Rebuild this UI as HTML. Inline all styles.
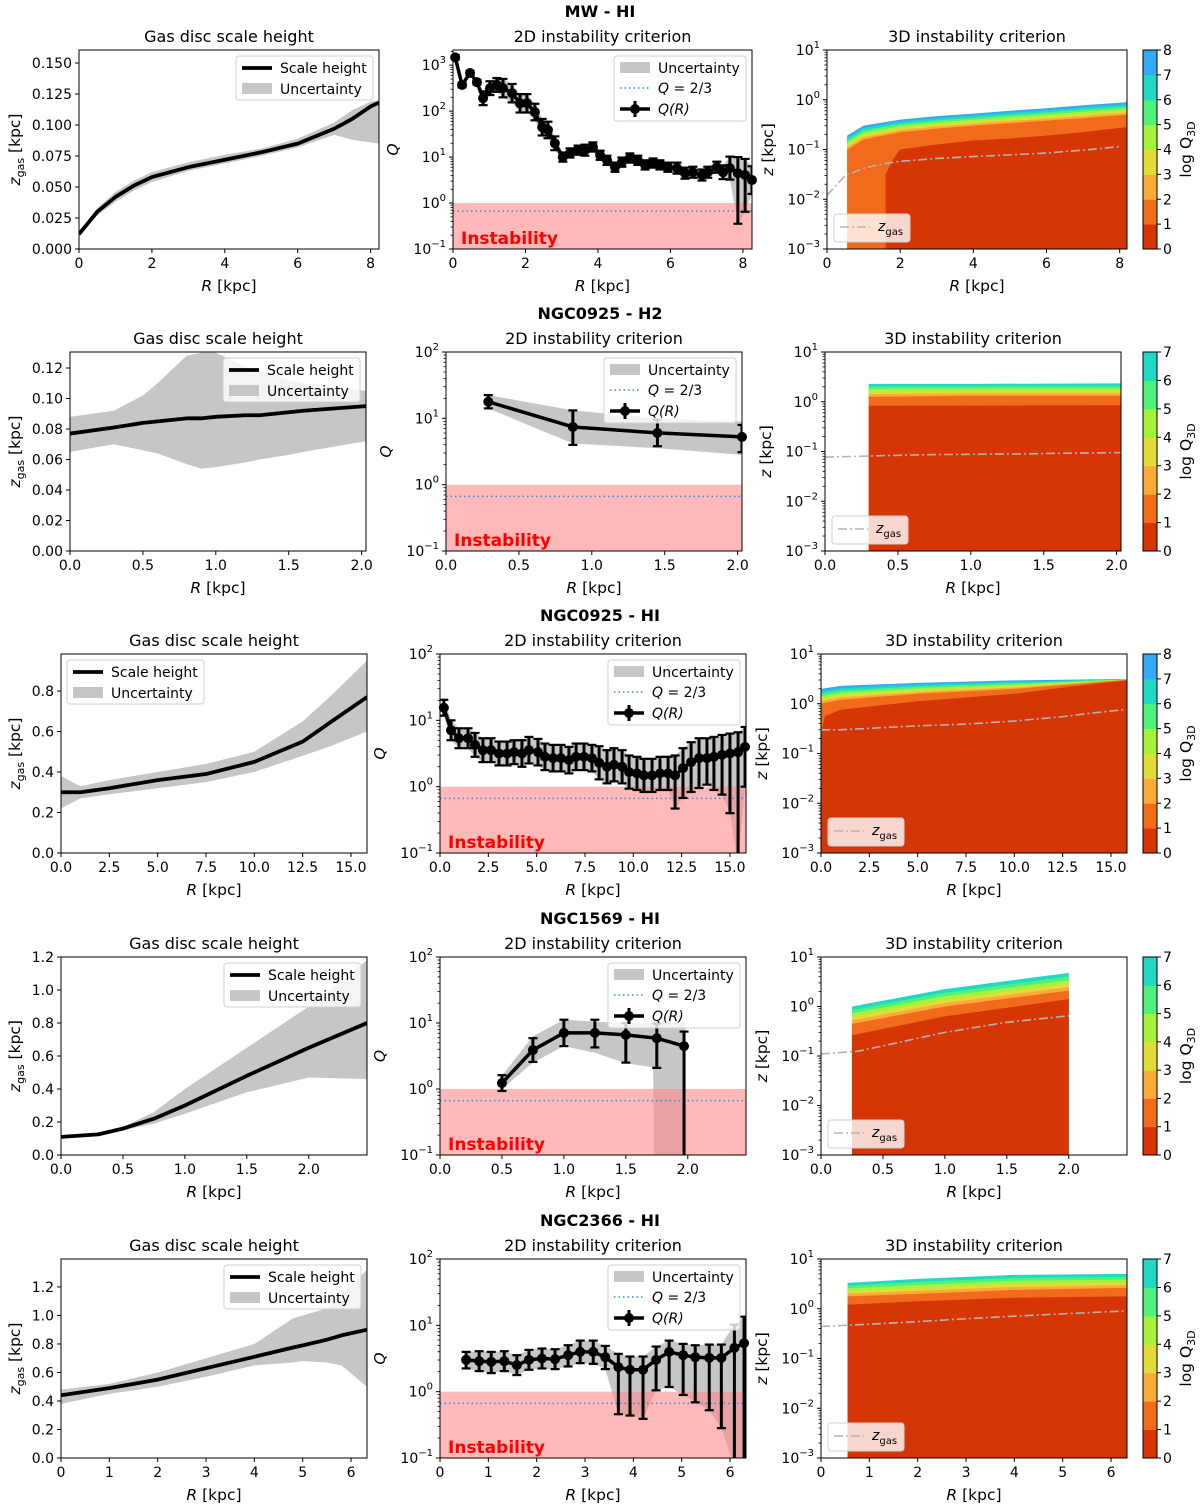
<!DOCTYPE html>
<html><head><meta charset="utf-8"><style>
html,body{margin:0;padding:0;background:#fff}
svg{display:block;font-family:"DejaVu Sans","Liberation Sans",sans-serif}
</style></head><body>
<svg id="fig" width="1200" height="1509" viewBox="0 0 1200 1509"></svg>
<script>
// ---------------- DATA ----------------
const mwR=[0,0.5,1,1.5,2,3,4,5,6,7,7.5,8,8.23];
const mwZ=[0.012,0.03,0.042,0.051,0.058,0.066,0.072,0.078,0.085,0.097,0.105,0.115,0.118];
const mwZlo=[0.010,0.027,0.038,0.047,0.054,0.063,0.069,0.075,0.082,0.092,0.088,0.086,0.085];
const mwZhi=[0.014,0.033,0.046,0.055,0.062,0.070,0.076,0.081,0.089,0.102,0.112,0.119,0.12];
const mwQR=[0.06,0.25,0.47,0.66,0.83,1.02,1.21,1.38,1.63,1.85,2.04,2.26,2.46,2.62,2.81,3.03,3.23,3.45,3.64,3.86,4.06,4.25,4.47,4.66,4.88,5.1,5.3,5.52,5.71,5.93,6.18,6.4,6.62,6.87,7.03,7.28,7.45,7.64,7.86,8.06,8.25];
const mwQ=[3.17,2.57,2.83,2.63,2.28,2.5,2.57,2.5,2.39,2.17,2.17,1.98,1.65,1.59,1.3,1.0,1.09,1.15,1.15,1.22,1.04,0.93,0.78,0.89,0.98,0.93,0.83,0.87,0.83,0.78,0.76,0.65,0.67,0.61,0.67,0.78,0.67,0.76,0.65,0.61,0.5];
const mwQerrLo=[0.05,0.05,0.05,0.05,0.15,0.15,0.15,0.2,0.2,0.2,0.2,0.18,0.18,0.18,0.15,0.1,0.1,0.1,0.12,0.1,0.1,0.1,0.1,0.1,0.1,0.1,0.1,0.1,0.1,0.1,0.12,0.12,0.12,0.12,0.12,0.12,0.15,0.25,1.1,0.8,0.3];
const mwQerrHi=[0.05,0.05,0.05,0.05,0.15,0.15,0.15,0.2,0.2,0.2,0.2,0.18,0.18,0.18,0.15,0.1,0.1,0.1,0.12,0.1,0.1,0.1,0.1,0.1,0.1,0.1,0.1,0.1,0.1,0.1,0.12,0.12,0.12,0.12,0.12,0.12,0.15,0.25,0.35,0.35,0.3];
const mw3dR=[0.55,1,2,3,4,5,6,7,8.2];
const mw3dOuter=[-0.72,-0.52,-0.40,-0.33,-0.28,-0.22,-0.17,-0.11,-0.05];
const mw3dLevel1=[-1.0,-0.8,-0.65,-0.58,-0.52,-0.47,-0.42,-0.37,-0.3];
const mw3dRedR=[1.6,1.8,2,3,4,5,6,7,8.2];
const mw3dRed=[-1.5,-1.2,-1.0,-0.9,-0.82,-0.78,-0.72,-0.65,-0.55];

const h2R=[0,0.3,0.5,0.6,0.8,0.9,1.0,1.2,1.3,1.5,1.6,2.03];
const h2Z=[0.077,0.081,0.084,0.085,0.087,0.087,0.088,0.089,0.089,0.091,0.092,0.095];
const h2Zlo=[0.065,0.07,0.066,0.064,0.057,0.054,0.055,0.058,0.06,0.063,0.065,0.072];
const h2Zhi=[0.088,0.092,0.102,0.11,0.128,0.13,0.13,0.121,0.118,0.112,0.11,0.105];
const h2QR=[0.29,0.87,1.45,2.03];
const h2Q=[1.25,0.87,0.78,0.72];
const h2QerrLo=[0.1,0.27,0.2,0.23];
const h2QerrHi=[0.1,0.25,0.2,0.18];
const h2QbandR=[0.29,0.87,1.45,2.03];
const h2QbandLo=[1.15,0.62,0.55,0.45];
const h2QbandHi=[1.35,1.12,1.0,0.95];
const h23dR=[0.3,1,2.03];
const h23dOuter=[0.36,0.36,0.37];
const h23dLevel1=[0.1,0.12,0.12];
const h23dRedR=[0.3,2.03];
const h23dRed=[-0.08,-0.07];

const n9R=[0,1,2.5,5,7.5,10,12.5,14,15.83];
const n9Z=[0.30,0.30,0.32,0.36,0.39,0.45,0.55,0.65,0.77];
const n9Zlo=[0.22,0.27,0.29,0.32,0.35,0.40,0.48,0.53,0.60];
const n9Zhi=[0.38,0.33,0.36,0.40,0.44,0.50,0.65,0.78,0.95];
const n9QR=[0.2,0.57,0.98,1.45,1.81,2.22,2.64,3.05,3.47,3.83,4.24,4.6,5.07,5.43,5.85,6.26,6.67,7.04,7.45,7.86,8.23,8.64,9.0,9.42,9.78,10.19,10.55,10.97,11.38,11.8,12.16,12.57,12.99,13.4,13.81,14.17,14.59,15.0,15.42,15.78];
const n9Q=[1.19,0.85,0.73,0.73,0.63,0.55,0.55,0.5,0.5,0.52,0.5,0.55,0.52,0.45,0.43,0.43,0.4,0.45,0.45,0.43,0.36,0.3,0.33,0.3,0.22,0.2,0.17,0.17,0.2,0.2,0.17,0.28,0.37,0.43,0.43,0.45,0.48,0.5,0.52,0.6];
const n9QerrLo=[0.12,0.15,0.15,0.15,0.18,0.18,0.18,0.18,0.18,0.18,0.2,0.2,0.2,0.2,0.2,0.2,0.2,0.2,0.2,0.2,0.25,0.25,0.25,0.25,0.25,0.25,0.25,0.25,0.25,0.25,0.5,0.45,0.45,0.45,0.4,0.5,0.6,0.9,1.7,0.6];
const n9QerrHi=[0.12,0.15,0.15,0.15,0.18,0.18,0.18,0.18,0.18,0.18,0.2,0.2,0.2,0.2,0.2,0.2,0.2,0.2,0.2,0.2,0.25,0.25,0.25,0.25,0.25,0.25,0.25,0.25,0.25,0.25,0.3,0.3,0.3,0.3,0.3,0.3,0.3,0.3,0.3,0.3];
const n93dR=[0,1,5,10,15.83];
const n93dOuter=[0.3,0.36,0.42,0.47,0.5];
const n93dLevel1=[0.0,0.08,0.2,0.3,0.48];
const n93dRedR=[0,0.2,1,5,10,13,15.83];
const n93dRed=[-0.6,-0.25,-0.12,0.05,0.2,0.35,0.47];

const n69R=[0,0.3,0.5,0.75,1.0,1.5,2.0,2.47];
const n69Z=[0.11,0.125,0.16,0.22,0.30,0.48,0.65,0.80];
const n69Zlo=[0.10,0.115,0.15,0.19,0.25,0.38,0.47,0.46];
const n69Zhi=[0.12,0.135,0.17,0.26,0.40,0.65,0.90,1.18];
const n69QR=[0.5,0.75,1.0,1.25,1.5,1.75,1.97];
const n69Q=[0.09,0.59,0.85,0.85,0.82,0.77,0.65];
const n69QerrLo=[0.12,0.18,0.2,0.22,0.42,0.45,2.0];
const n69QerrHi=[0.12,0.18,0.2,0.2,0.18,0.22,0.22];
const n69QbandR=[0.5,0.75,1.0,1.25,1.5,1.72,1.73,1.98];
const n69QbandLo=[0.0,0.4,0.65,0.55,0.39,0.33,-1.0,-1.0];
const n69QbandHi=[0.2,0.8,1.05,1.02,1.0,1.0,1.0,1.0];
const n693dR=[0.25,1,2.0];
const n693dOuter=[0.0,0.35,0.68];
const n693dLevel1=[-0.35,0.0,0.32];
const n693dRedR=[0.25,1,2.0];
const n693dRed=[-0.58,-0.2,0.15];

const n66R=[0,1,2,3,4,4.8,5,5.5,5.8,6.33];
const n66Z=[0.44,0.49,0.55,0.63,0.71,0.775,0.79,0.83,0.86,0.9];
const n66Zlo=[0.38,0.45,0.50,0.57,0.65,0.67,0.68,0.67,0.65,0.5];
const n66Zhi=[0.48,0.52,0.60,0.70,0.80,0.98,1.0,1.05,1.15,1.32];
const n66QR=[0.54,0.81,1.06,1.33,1.59,1.84,2.11,2.38,2.65,2.9,3.17,3.42,3.69,3.93,4.2,4.47,4.74,5.03,5.28,5.57,5.82,6.09,6.29];
const n66Q=[0.48,0.46,0.45,0.46,0.40,0.48,0.50,0.49,0.55,0.60,0.60,0.52,0.37,0.33,0.33,0.48,0.60,0.55,0.52,0.51,0.51,0.66,0.73];
const n66QerrLo=[0.13,0.15,0.17,0.15,0.15,0.15,0.15,0.15,0.17,0.17,0.18,0.18,0.71,0.69,0.74,0.46,0.53,0.6,0.68,0.79,1.06,1.8,1.8];
const n66QerrHi=[0.12,0.15,0.15,0.15,0.15,0.15,0.15,0.15,0.15,0.17,0.17,0.17,0.2,0.2,0.2,0.2,0.17,0.17,0.18,0.2,0.2,0.35,0.4];
const n663dR=[0.55,2,4,6.33];
const n663dOuter=[0.52,0.6,0.68,0.7];
const n663dLevel1=[0.25,0.3,0.38,0.42];
const n663dRedR=[0.55,2,4,6.33];
const n663dRed=[0.08,0.15,0.22,0.25];

const levelColors=['#d63506','#f26b1d','#fdaa3a','#e2dc38','#a5f23c','#4ef17a','#1fd9c4','#35a8f7'];

// ---------------- LAYOUT ----------------
const ROWS=[
 {id:'mw',title:'MW - HI',top:50,bot:249,
  L:{x0:79,x1:379,xmax:8.23,ymax:0.1605,xt:[0,2,4,6,8],xd:0,yt:[0,.025,.05,.075,.1,.125,.15],yd:3,leg:[236,56]},
  M:{x0:453,x1:752,xmax:8.25,yhi:3.33,leg:[614,56]},
  T:{x0:827,x1:1127,xmax:8.2,nl:8,zmax:8.2},
  z:[mwR,mwZ,mwZlo,mwZhi],q:[mwQR,mwQ,mwQerrLo,mwQerrHi,null,null,null],d3:[mw3dR,mw3dOuter,mw3dLevel1,mw3dRedR,mw3dRed]},
 {id:'ngc0925-h2',title:'NGC0925 - H2',top:352,bot:551,
  L:{x0:70,x1:366,xmax:2.03,ymax:0.1305,xt:[0,0.5,1,1.5,2],xd:1,yt:[0,.02,.04,.06,.08,.1,.12],yd:2,leg:[223,358]},
  M:{x0:446,x1:742,xmax:2.03,yhi:2,leg:[604,358]},
  T:{x0:825,x1:1121,xmax:2.03,nl:7,zmax:2.03},
  z:[h2R,h2Z,h2Zlo,h2Zhi],q:[h2QR,h2Q,h2QerrLo,h2QerrHi,h2QbandR,h2QbandLo,h2QbandHi],d3:[h23dR,h23dOuter,h23dLevel1,h23dRedR,h23dRed]},
 {id:'ngc0925-hi',title:'NGC0925 - HI',top:654,bot:853,
  L:{x0:61,x1:367,xmax:15.83,ymax:0.983,xt:[0,2.5,5,7.5,10,12.5,15],xd:1,yt:[0,.2,.4,.6,.8],yd:1,leg:[67,660]},
  M:{x0:440,x1:746,xmax:15.83,yhi:2,leg:[608,660]},
  T:{x0:821,x1:1127,xmax:15.83,nl:8,zmax:15.83},
  z:[n9R,n9Z,n9Zlo,n9Zhi],q:[n9QR,n9Q,n9QerrLo,n9QerrHi,null,null,null],d3:[n93dR,n93dOuter,n93dLevel1,n93dRedR,n93dRed]},
 {id:'ngc1569-hi',title:'NGC1569 - HI',top:957,bot:1155,
  L:{x0:61,x1:367,xmax:2.47,ymax:1.2,xt:[0,0.5,1,1.5,2],xd:1,yt:[0,.2,.4,.6,.8,1,1.2],yd:1,leg:[224,963]},
  M:{x0:440,x1:746,xmax:2.47,yhi:2,leg:[608,963]},
  T:{x0:821,x1:1127,xmax:2.47,nl:7,zmax:2.0},
  z:[n69R,n69Z,n69Zlo,n69Zhi],q:[n69QR,n69Q,n69QerrLo,n69QerrHi,n69QbandR,n69QbandLo,n69QbandHi],d3:[n693dR,n693dOuter,n693dLevel1,n693dRedR,n693dRed]},
 {id:'ngc2366-hi',title:'NGC2366 - HI',top:1259,bot:1458,
  L:{x0:61,x1:367,xmax:6.33,ymax:1.396,xt:[0,1,2,3,4,5,6],xd:0,yt:[0,.2,.4,.6,.8,1,1.2],yd:1,leg:[224,1265]},
  M:{x0:440,x1:746,xmax:6.33,yhi:2,leg:[608,1265]},
  T:{x0:821,x1:1127,xmax:6.33,nl:7,zmax:6.33},
  z:[n66R,n66Z,n66Zlo,n66Zhi],q:[n66QR,n66Q,n66QerrLo,n66QerrHi,null,null,null],d3:[n663dR,n663dOuter,n663dLevel1,n663dRedR,n663dRed]}
];

// ---------------- HELPERS ----------------
const NS='http://www.w3.org/2000/svg';
const svg=document.getElementById('fig');
function mk(tag,attrs,parent){const e=document.createElementNS(NS,tag);for(const k in attrs)e.setAttribute(k,attrs[k]);(parent||svg).appendChild(e);return e;}
function txt(s,attrs,parent){const e=mk('text',attrs,parent);e.textContent=s;return e;}
let clipId=0;
function clip(x0,y0,x1,y1){const id='c'+(clipId++);const cp=mk('clipPath',{id:id});mk('rect',{x:x0,y:y0,width:x1-x0,height:y1-y0},cp);return 'url(#'+id+')';}
function frame(g,x0,y0,x1,y1){const r=mk('rect',{x:x0,y:y0,width:x1-x0,height:y1-y0,fill:'none',stroke:'#000','stroke-width':1},g);

}
function xTicks(g,vals,dec,sx,bot){vals.forEach(v=>{const x=sx(v);mk('line',{x1:x,x2:x,y1:bot,y2:bot+4,stroke:'#000'},g);
const t=txt(v.toFixed(dec),{x:x,y:bot+19,'font-size':14,'text-anchor':'middle'},g);

});}
function xLabel(g,cx,bot){const t=mk('text',{x:cx,y:bot+42,'font-size':15.5,'text-anchor':'middle'},g);


const a=mk('tspan',{'font-style':'italic'},t);a.textContent='R';const b=mk('tspan',{},t);b.textContent=' [kpc]';}
function logTicks(g,lo,hi,sy,x0){for(let d=Math.ceil(lo);d<=Math.floor(hi);d++){const y=sy(d);mk('line',{x1:x0-4,x2:x0,y1:y,y2:y,stroke:'#000'},g);
const t=mk('text',{x:x0-7,y:y+5,'font-size':14,'text-anchor':'end'},g);


const a=mk('tspan',{},t);a.textContent='10';const b=mk('tspan',{dy:-7,'font-size':10},t);b.textContent=String(d).replace('-','\u2212');}
for(let d=Math.floor(lo);d<=hi;d++){for(let m=2;m<10;m++){const v=d+Math.log10(m);if(v>lo&&v<hi){const y=sy(v);mk('line',{x1:x0-2.5,x2:x0,y1:y,y2:y,stroke:'#000','stroke-width':0.8},g);}}}}
function panelTitle(g,s,cx,top){const t=txt(s,{x:cx,y:top-8,'font-size':16,'text-anchor':'middle'},g);

}

// ---------------- DRAW ----------------
ROWS.forEach(row=>{
 const top=row.top,bot=row.bot;
 const rt=txt(row.title,{x:600,y:top-33,'font-size':16,'font-weight':'bold','text-anchor':'middle'});
 
 

 // ---- left: scale height ----
 {const c=row.L;const g=mk('g',{});
 
 
 const sx=v=>c.x0+v/c.xmax*(c.x1-c.x0), sy=v=>bot-v/c.ymax*(bot-top);
 const [R,Z,lo,hi]=row.z;const cl=clip(c.x0,top,c.x1,bot);
 let pts=R.map((r,i)=>sx(r)+','+sy(hi[i]));for(let i=R.length-1;i>=0;i--)pts.push(sx(R[i])+','+sy(lo[i]));
 const band=mk('polygon',{points:pts.join(' '),fill:'#c6c6c6','clip-path':cl},g);
 
 
 const ln=mk('path',{d:'M'+R.map((r,i)=>sx(r)+','+sy(Z[i])).join('L'),fill:'none',stroke:'#000','stroke-width':3.8,'stroke-linejoin':'round','clip-path':cl},g);
 
 
 frame(g,c.x0,top,c.x1,bot);
 xTicks(g,c.xt,c.xd,sx,bot);
 c.yt.forEach(v=>{const y=sy(v);mk('line',{x1:c.x0-4,x2:c.x0,y1:y,y2:y,stroke:'#000'},g);
  const t=txt(v.toFixed(c.yd),{x:c.x0-7,y:y+5,'font-size':14,'text-anchor':'end'},g);
  
  });
 xLabel(g,(c.x0+c.x1)/2,bot);
 const yl=mk('text',{x:0,y:0,'font-size':15.5,'text-anchor':'middle',transform:'translate(20,'+((top+bot)/2)+') rotate(-90)'},g);
 
 
 const a=mk('tspan',{'font-style':'italic'},yl);a.textContent='z';const b=mk('tspan',{dy:4,'font-size':11},yl);b.textContent='gas';const cc=mk('tspan',{dy:-4},yl);cc.textContent=' [kpc]';
 panelTitle(g,'Gas disc scale height',(c.x0+c.x1)/2,top);
 const [lx,ly]=c.leg;const lg=mk('g',{},g);
 
 
 mk('rect',{x:lx,y:ly,width:137,height:44,rx:3,fill:'#fff','fill-opacity':0.8,stroke:'#d0d0d0'},lg);
 mk('line',{x1:lx+6,x2:lx+36,y1:ly+12,y2:ly+12,stroke:'#000','stroke-width':3.8},lg);
 txt('Scale height',{x:lx+44,y:ly+17,'font-size':14},lg);
 mk('rect',{x:lx+6,y:ly+27,width:30,height:11,fill:'#c6c6c6'},lg);
 txt('Uncertainty',{x:lx+44,y:ly+38,'font-size':14},lg);}

 // ---- middle: 2D Q ----
 {const c=row.M;const g=mk('g',{});
 
 
 const ylo=-1,yhi=c.yhi;
 const sx=v=>c.x0+v/c.xmax*(c.x1-c.x0), sy=v=>bot-(v-ylo)/(yhi-ylo)*(bot-top);
 const [R,Q,eL,eH,bR,bL,bH]=row.q;const cl=clip(c.x0,top,c.x1,bot);
 const BR=bR||R;
 const lo=bL||Q.map((q,i)=>q-eL[i]), hi=bH||Q.map((q,i)=>q+eH[i]);
 let pts=BR.map((r,i)=>sx(r)+','+sy(Math.max(hi[i],-1.2)));for(let i=BR.length-1;i>=0;i--)pts.push(sx(BR[i])+','+sy(Math.max(lo[i],-1.2)));
 const band=mk('polygon',{points:pts.join(' '),fill:'#c6c6c6','clip-path':cl},g);
 
 
 const pk=mk('rect',{x:c.x0,y:sy(0),width:c.x1-c.x0,height:bot-sy(0),fill:'#ff8a8a','fill-opacity':0.6},g);
 
 
 const dl=mk('line',{x1:c.x0,x2:c.x1,y1:sy(Math.log10(2/3)),y2:sy(Math.log10(2/3)),stroke:'#2b8cf0','stroke-width':1.5,'stroke-dasharray':'1.5,3'},g);
 
 
 const eg=mk('g',{'clip-path':cl},g);
 R.forEach((r,i)=>{const x=sx(r);mk('line',{x1:x,x2:x,y1:sy(Q[i]-eL[i]),y2:sy(Q[i]+eH[i]),stroke:'#000','stroke-width':3},eg);
  mk('line',{x1:x-4.5,x2:x+4.5,y1:sy(Q[i]-eL[i]),y2:sy(Q[i]-eL[i]),stroke:'#000','stroke-width':2.2},eg);
  mk('line',{x1:x-4.5,x2:x+4.5,y1:sy(Q[i]+eH[i]),y2:sy(Q[i]+eH[i]),stroke:'#000','stroke-width':2.2},eg);});
 const ql=mk('path',{d:'M'+R.map((r,i)=>sx(r)+','+sy(Q[i])).join('L'),fill:'none',stroke:'#000','stroke-width':3.5,'stroke-linejoin':'round','clip-path':cl},g);
 
 
 R.forEach((r,i)=>{const m=mk('circle',{cx:sx(r),cy:sy(Q[i]),r:5,fill:'#000'},g);
  
  });
 const it=txt('Instability',{x:c.x0+8,y:bot-5,'font-size':17,'font-weight':'bold',fill:'#f00'},g);
 
 
 frame(g,c.x0,top,c.x1,bot);
 xTicks(g,row.L.xt,row.L.xd,sx,bot);
 logTicks(g,ylo,yhi,sy,c.x0);
 xLabel(g,(c.x0+c.x1)/2,bot);
 const yl=txt('Q',{x:c.x0-55,y:(top+bot)/2,'font-size':15.5,'font-style':'italic','text-anchor':'middle',transform:'rotate(-90 '+(c.x0-55)+' '+((top+bot)/2)+')'},g);
 
 
 panelTitle(g,'2D instability criterion',(c.x0+c.x1)/2,top);
 const [lx,ly]=c.leg;const lg=mk('g',{},g);
 
 
 mk('rect',{x:lx,y:ly,width:132,height:65,rx:3,fill:'#fff','fill-opacity':0.8,stroke:'#d0d0d0'},lg);
 mk('rect',{x:lx+6,y:ly+6,width:30,height:11,fill:'#c6c6c6'},lg);
 txt('Uncertainty',{x:lx+44,y:ly+17,'font-size':14},lg);
 mk('line',{x1:lx+6,x2:lx+36,y1:ly+32,y2:ly+32,stroke:'#2b8cf0','stroke-width':1.5,'stroke-dasharray':'1.5,3'},lg);
 const t2=mk('text',{x:lx+44,y:ly+37,'font-size':14},lg);const q1=mk('tspan',{'font-style':'italic'},t2);q1.textContent='Q';const q2=mk('tspan',{},t2);q2.textContent=' = 2/3';
 mk('line',{x1:lx+6,x2:lx+36,y1:ly+53,y2:ly+53,stroke:'#000','stroke-width':3.5},lg);
 mk('line',{x1:lx+21,x2:lx+21,y1:ly+45,y2:ly+61,stroke:'#000','stroke-width':3},lg);
 mk('circle',{cx:lx+21,cy:ly+53,r:5,fill:'#000'},lg);
 const t3=mk('text',{x:lx+44,y:ly+58,'font-size':14,'font-style':'italic'},lg);t3.textContent='Q(R)';}

 // ---- right: 3D Q ----
 {const c=row.T;const g=mk('g',{});
 
 
 const ylo=-3,yhi=1;
 const sx=v=>c.x0+v/c.xmax*(c.x1-c.x0), sy=v=>bot-(v-ylo)/(yhi-ylo)*(bot-top);
 const [R3,outer,lev1,redR,red]=row.d3;const cl=clip(c.x0,top,c.x1,bot);
 const cg=mk('g',{'clip-path':cl},g);
 for(let k=c.nl-1;k>=1;k--){const f=c.nl>2?(k-1)/(c.nl-2):0;
  const tops=R3.map((r,i)=>lev1[i]+(outer[i]-lev1[i])*f);
  let pts=R3.map((r,i)=>sx(r)+','+sy(tops[i]));pts.push(sx(R3[R3.length-1])+','+sy(-3.1));pts.push(sx(R3[0])+','+sy(-3.1));
  const p=mk('polygon',{points:pts.join(' '),fill:levelColors[k]},cg);
  
  }
 {let pts=redR.map((r,i)=>sx(r)+','+sy(red[i]));pts.push(sx(redR[redR.length-1])+','+sy(-3.1));pts.push(sx(redR[0])+','+sy(-3.1));
  const p=mk('polygon',{points:pts.join(' '),fill:levelColors[0]},cg);
  
  }
 const [zR,zZ]=row.z;
 const zl=mk('path',{d:'M'+zR.filter(r=>r<=c.zmax+1e-9).map((r,i)=>sx(r)+','+sy(Math.log10(zZ[i]))).join('L'),fill:'none',stroke:'#b4b4b4','stroke-width':1.6,'stroke-dasharray':'9,3,2,3','clip-path':cl},g);
 
 
 frame(g,c.x0,top,c.x1,bot);
 xTicks(g,row.L.xt,row.L.xd,sx,bot);
 logTicks(g,ylo,yhi,sy,c.x0);
 xLabel(g,(c.x0+c.x1)/2,bot);
 const yl=mk('text',{x:0,y:0,'font-size':15.5,'text-anchor':'middle',transform:'translate('+(c.x0-54)+','+((top+bot)/2)+') rotate(-90)'},g);
 
 
 const a=mk('tspan',{'font-style':'italic'},yl);a.textContent='z';const b=mk('tspan',{},yl);b.textContent=' [kpc]';
 panelTitle(g,'3D instability criterion',(c.x0+c.x1)/2,top);
 const lx=c.x0+7,ly=bot-35;const lg=mk('g',{},g);
 
 
 mk('rect',{x:lx,y:ly,width:76,height:28,rx:3,fill:'#fff','fill-opacity':0.8,stroke:'#d0d0d0'},lg);
 mk('line',{x1:lx+6,x2:lx+36,y1:ly+13,y2:ly+13,stroke:'#b4b4b4','stroke-width':1.6,'stroke-dasharray':'9,3,2,3'},lg);
 const t=mk('text',{x:lx+44,y:ly+17,'font-size':14},lg);const z1=mk('tspan',{'font-style':'italic'},t);z1.textContent='z';const z2=mk('tspan',{dy:4,'font-size':10},t);z2.textContent='gas';
 // colorbar
 const cb=mk('g',{},g);
 
 
 const cx0=1143,cx1=1157,h=(bot-top)/c.nl;
 for(let k=0;k<c.nl;k++){mk('rect',{x:cx0,y:bot-(k+1)*h,width:cx1-cx0,height:h+0.5,fill:levelColors[k]},cb);}
 mk('rect',{x:cx0,y:top,width:cx1-cx0,height:bot-top,fill:'none',stroke:'#000'},cb);
 for(let k=0;k<=c.nl;k++){const y=bot-k*h;mk('line',{x1:cx1,x2:cx1+4,y1:y,y2:y,stroke:'#000'},cb);
  const tl=txt(String(k),{x:cx1+6,y:y+5,'font-size':14},cb);
  
  }
 const cl2=mk('text',{x:0,y:0,'font-size':15.5,'text-anchor':'middle',transform:'translate(1191,'+((top+bot)/2)+') rotate(-90)'},cb);
 
 
 const l1=mk('tspan',{},cl2);l1.textContent='log Q';const l2=mk('tspan',{dy:4,'font-size':11},cl2);l2.textContent='3D';}
});
</script>
</body></html>
